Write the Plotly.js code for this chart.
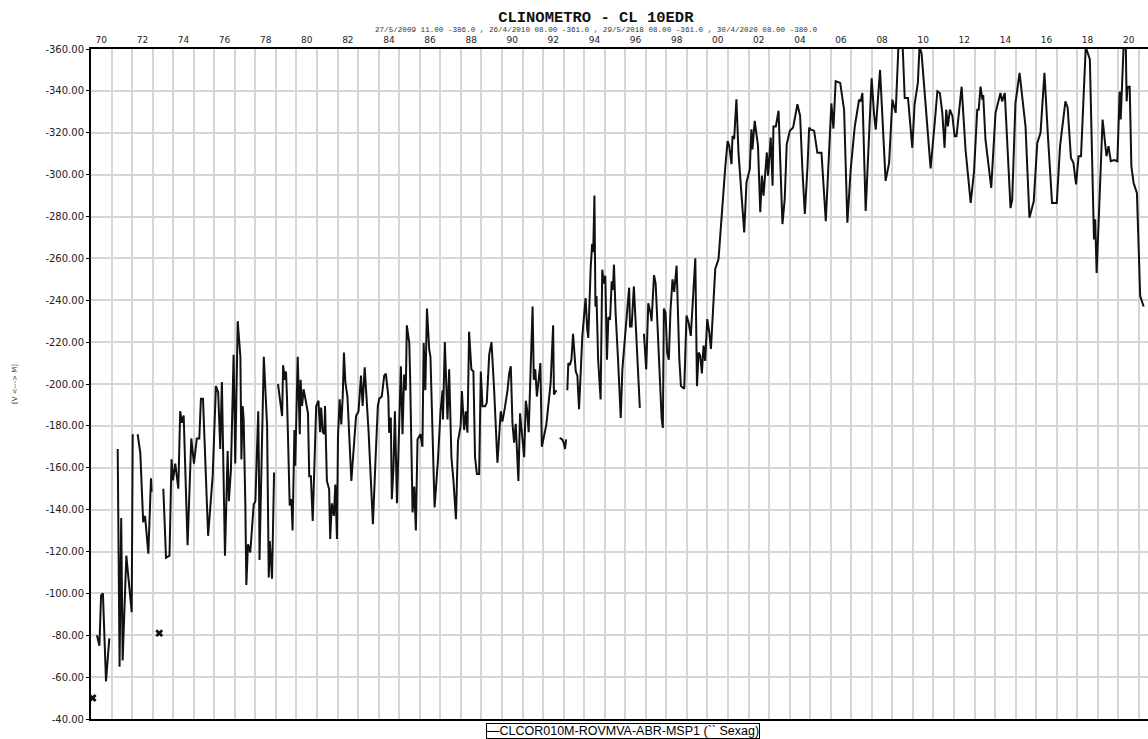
<!DOCTYPE html>
<html>
<head>
<meta charset="utf-8">
<script src="https://cdn.plot.ly/plotly-3.0.1.min.js"></script>
<style>html,body{margin:0;padding:0;background:#fff;}#chart{width:1148px;height:739px;}</style>
</head>
<body>
<div id="chart"></div>
<script>
// Decimal-year time stamps (null = gap in the record)
const years = [
  1970.29,1970.41,1970.49,1970.58,1970.73,1970.89,null,
  1971.30,1971.39,1971.47,1971.54,1971.72,1971.82,1971.98,1972.03,null,
  1972.27,1972.40,1972.54,1972.63,1972.79,1972.87,1972.92,1972.95,null,
  1973.52,1973.65,1973.82,1973.92,1973.99,1974.10,1974.25,1974.34,1974.42,1974.51,1974.70,1974.88,1975.01,1975.15,1975.27,1975.35,1975.45,1975.70,1975.92,
  1976.08,1976.19,1976.29,1976.37,1976.52,1976.65,1976.71,1976.81,1976.94,1977.02,1977.14,1977.27,1977.32,1977.38,1977.43,1977.51,1977.56,1977.64,1977.75,1977.92,
  1978.00,1978.08,1978.14,1978.18,1978.20,1978.28,1978.41,1978.57,1978.65,1978.70,1978.81,1978.91,null,
  1979.10,1979.22,1979.30,1979.35,1979.43,1979.49,1979.54,1979.67,1979.75,1979.81,1979.90,1979.94,1980.06,1980.16,1980.20,1980.27,1980.35,1980.45,1980.56,1980.62,1980.70,1980.79,1980.88,1980.96,
  1981.07,1981.15,1981.20,1981.28,1981.36,1981.39,1981.48,1981.59,1981.64,1981.72,1981.82,1981.89,1981.97,1982.02,1982.10,1982.18,1982.25,1982.31,1982.38,1982.48,1982.67,1982.90,
  1983.02,1983.14,1983.22,1983.32,1983.51,1983.72,1983.84,1983.96,1984.03,1984.15,1984.27,1984.35,1984.47,1984.51,1984.59,1984.64,1984.72,1984.79,1984.89,
  1985.00,1985.08,1985.16,1985.24,1985.32,1985.37,1985.49,1985.53,1985.65,1985.73,1985.81,1985.89,1986.03,1986.13,1986.19,1986.27,1986.35,1986.46,1986.52,1986.72,1986.88,
  1987.01,1987.11,1987.13,1987.22,1987.35,1987.43,1987.54,1987.64,1987.76,1987.86,1987.99,1988.05,1988.16,1988.24,1988.32,1988.40,1988.51,1988.61,1988.69,1988.78,1988.89,1988.97,
  1989.05,1989.18,1989.26,1989.38,1989.49,1989.62,1989.78,1989.94,1990.02,1990.14,1990.27,1990.35,1990.43,1990.51,1990.59,1990.67,1990.80,1990.88,1990.99,
  1991.08,1991.16,1991.22,1991.30,1991.49,1991.55,1991.62,1991.70,1991.87,1991.94,1992.16,1992.37,1992.49,1992.53,1992.65,null,
  1992.81,1992.93,1993.00,1993.07,1993.12,null,
  1993.18,1993.23,1993.30,1993.38,1993.46,1993.54,1993.59,1993.67,1993.75,1993.83,1993.91,1993.99,1994.07,1994.15,1994.20,1994.32,1994.39,1994.44,1994.50,1994.55,1994.60,1994.68,1994.80,1994.88,1994.96,
  1995.03,1995.11,1995.18,1995.26,1995.34,1995.40,1995.45,1995.53,1995.65,1995.78,1995.86,1995.94,1996.03,1996.11,1996.19,1996.23,1996.31,1996.42,1996.55,1996.71,null,
  1996.91,1997.02,1997.12,1997.23,1997.28,1997.40,1997.48,1997.56,1997.77,1997.83,1997.88,1997.96,1998.04,1998.12,1998.20,1998.30,1998.38,1998.50,1998.63,1998.71,1998.87,1998.98,
  1999.08,1999.19,1999.31,1999.41,1999.49,1999.57,1999.65,1999.73,1999.81,1999.89,1999.99,2000.09,2000.17,2000.28,2000.38,2000.54,2000.65,2000.73,2000.86,2000.98,
  2001.06,2001.17,2001.22,2001.30,2001.41,2001.51,2001.63,2001.79,2001.90,2002.06,2002.14,2002.19,2002.30,2002.46,2002.57,2002.65,2002.73,2002.89,2002.95,
  2003.08,2003.17,2003.21,2003.33,2003.46,2003.54,2003.65,2003.76,2003.86,2004.01,2004.17,2004.38,2004.51,2004.62,2004.74,2004.87,2004.95,
  2005.03,2005.19,2005.35,2005.55,2005.76,2006.03,2006.13,2006.24,2006.46,2006.65,2006.81,2006.97,2007.17,2007.38,2007.46,2007.54,2007.70,2007.88,2007.99,
  2008.11,2008.19,2008.40,2008.67,2008.84,2009.00,2009.16,2009.27,2009.40,2009.60,2009.76,2009.97,2010.08,2010.24,2010.32,2010.42,2010.62,2010.86,
  2011.06,2011.19,2011.31,2011.43,2011.54,2011.62,2011.70,2011.80,2011.92,2012.03,2012.12,2012.37,2012.56,2012.81,2012.97,
  2013.13,2013.20,2013.29,2013.38,2013.42,2013.53,2013.81,2014.02,2014.26,2014.34,2014.47,2014.75,2014.83,2014.99,
  2015.19,2015.48,2015.67,2015.88,2016.05,2016.21,2016.40,2016.58,2016.77,2017.00,2017.16,2017.42,2017.53,2017.69,2017.81,2017.94,
  2018.06,2018.18,2018.41,2018.61,2018.74,2018.81,2018.87,2018.94,2019.06,2019.23,2019.42,2019.52,2019.63,2019.79,2019.95,
  2020.06,2020.11,2020.33,2020.40,2020.45,2020.55,2020.63,2020.74,2020.90,2021.06,2021.23
];
// Readings in sexagesimal seconds (V <---> M), same order as years
const clinoValues = [
  -80,-75,-99,-100,-58,-78.5,null,
  -169,-65,-136,-68,-118,-107,-91,-176,null,
  -176,-167,-134,-137,-119,-148,-155,-148.5,null,
  -150,-117,-118,-164,-154,-162,-150,-187,-181.5,-185,-123,-174,-162,-174,-174,-193,-193,-127.5,-156,
  -199,-196,-169,-201,-118,-168,-144,-159,-214,-162,-230,-213,-164,-189.5,-183,-143,-104,-123.5,-119.5,-142.6,
  -144,-169,-187,-151,-116,-153,-213,-180,-107.6,-125,-107,-157.7,null,
  -200,-189.5,-184.7,-209,-202,-206,-193,-142,-145,-130,-178,-161,-213,-176,-202,-189.5,-197.4,-192,-186,-156,-156,-134.6,-164,-189.5,
  -192,-177,-188.7,-177,-176,-189.5,-153.7,-149.7,-126,-143,-137,-152,-126,-175,-192.7,-180.7,-194,-215,-200.6,-194,-153.7,-184.7,
  -187,-204,-189.5,-208,-177,-133,-162.4,-189.5,-193,-194,-204,-205,-194,-176.7,-184,-145,-160,-187,-143,
  -175,-208.5,-176,-204.5,-197,-228,-219.6,-203.7,-138.6,-151,-130,-173.5,-176,-170,-219.6,-197,-236,-216.5,-213,-141,-163,
  -187,-197,-183,-220,-183,-207,-165,-153.7,-135.4,-172.7,-180,-196.6,-178,-187,-176.7,-225,-207,-206,-165,-157,-157,-206,
  -189.4,-189.4,-191,-214,-220,-197,-162.4,-187,-182,-188.6,-197,-205,-208.5,-181.5,-172,-181,-153.7,-186,-172,
  -165,-192,-188,-177,-237,-202,-207,-194,-210,-170,-180.6,-200.5,-228,-195,-197,null,
  -174.3,-173.5,-172,-169,-173.5,null,
  -197,-210,-209,-211.6,-224,-215,-206,-204,-188,-205,-222.8,-232,-241,-226,-222,-256,-267,-263,-290,-237,-242,-211.6,-192.6,-254.6,-248,
  -251.7,-211.6,-232,-230.7,-249,-245,-257,-234,-211.6,-183.8,-207,-215,-227.5,-237,-246,-227.5,-227.5,-246.6,-218,-188.6,null,
  -224,-207,-238.6,-234,-230,-252,-248,-229,-183.8,-179,-236,-234,-215,-211.6,-235,-250,-244,-256.5,-212,-199,-197.7,-232.7,
  -229.5,-223,-244,-260,-199,-215,-213.6,-205,-218.4,-211,-231,-224.7,-216.8,-240.6,-255,-259.7,-275.6,-286.7,-302.6,-316,
  -313.8,-305,-318.5,-317,-336,-310.6,-293,-272.4,-296.3,-302.6,-321.7,-312,-325.7,-313.8,-282,-299.5,-290,-310.6,-299.5,
  -317.7,-294.7,-323,-323,-330.5,-307.4,-276.4,-288.3,-314.6,-321,-322.5,-333.6,-328,-302.6,-281.2,-304,-322.5,
  -321.5,-321,-310.4,-310.4,-277.8,-334,-322,-344.6,-343.8,-331,-277,-302.4,-323,-335.8,-335,-339,-282.6,-326.3,-346,
  -328.7,-321.5,-350,-297,-305.6,-335.8,-329.5,-353,-386,-336.6,-336.6,-312.8,-333.5,-343.8,-361,-358,-331,-303,
  -324.7,-339.8,-339,-329.5,-312.8,-331,-323,-331,-328,-318.3,-318.3,-342,-312,-286.5,-301,
  -331,-331,-342,-335.8,-338,-316.8,-293.7,-329.5,-339,-335,-339,-284,-288,-334.2,
  -348.6,-323,-279.4,-287.3,-315,-320,-348.6,-316.8,-286.5,-286.5,-313.6,-335,-332,-308,-305.6,-295.3,
  -308.8,-308.8,-361,-355,-290.5,-269,-278.7,-253,-283,-326.3,-308.8,-313.6,-306.4,-307,-306.4,
  -339.7,-326.3,-380,-335,-342,-342,-304,-296,-291.3,-242,-237
];
// Isolated readings (no neighbours, drawn as crosses)
const isolatedYears = [1970.08, 1973.32];
const isolatedValues = [-50, -81];

const xTickLabels = ['70','72','74','76','78','80','82','84','86','88','90','92','94','96','98','00','02','04','06','08','10','12','14','16','18','20'];
const yTickValues = [-360,-340,-320,-300,-280,-260,-240,-220,-200,-180,-160,-140,-120,-100,-80,-60,-40];

const seriesName = 'CLCOR010M-ROVMVA-ABR-MSP1 (`` Sexag)';
const titleText = 'CLINOMETRO - CL 10EDR';
const subtitleText = '27/5/2009 11.00 -386.0 , 26/4/2010 08.00 -361.0 , 29/5/2018 08.00 -361.0 , 30/4/2020 08.00 -380.0';

const xTickVals = xTickLabels.map((_, i) => 1970.5 + 2 * i);
const yTickText = yTickValues.map(v => (v < 0 ? '-' : '') + Math.abs(v).toFixed(2));

const traces = [
  {
    type: 'scatter', mode: 'lines', name: seriesName,
    x: years, y: clinoValues, connectgaps: false,
    line: {color: '#111111', width: 2},
    showlegend: false, hoverinfo: 'x+y'
  },
  {
    type: 'scatter', mode: 'markers', name: seriesName, showlegend: false,
    x: isolatedYears, y: isolatedValues,
    marker: {symbol: 'x', size: 7, color: '#111111'}
  }
];

const layout = {
  width: 1148, height: 739,
  margin: {l: 91, r: 0, t: 49, b: 20, pad: 0, autoexpand: false},
  paper_bgcolor: '#ffffff', plot_bgcolor: '#ffffff',
  showlegend: false,
  title: {
    text: titleText,
    font: {family: 'Liberation Mono, Courier New, monospace', size: 15.5, color: '#111', weight: 'bold'},
    x: 0.519, xref: 'container', xanchor: 'center',
    y: 0.978, yref: 'container', yanchor: 'middle'
  },
  annotations: [
    {
      text: subtitleText, xref: 'paper', yref: 'paper', x: 0.4778, y: 1.0284,
      xanchor: 'center', yanchor: 'middle', showarrow: false,
      font: {family: 'Liberation Mono, Courier New, monospace', size: 7.6, color: '#333'}
    },
    {
      // legend box of the single series
      text: '\u2014' + seriesName, xref: 'paper', yref: 'paper', x: 0.503, y: -0.006,
      xanchor: 'center', yanchor: 'top', showarrow: false,
      bordercolor: '#000', borderwidth: 1, borderpad: 0, bgcolor: '#fff',
      font: {family: 'Liberation Sans, Arial, sans-serif', size: 12.5, color: '#000'}
    }
  ],
  xaxis: {
    side: 'top', range: [1970, 2021.44], autorange: false,
    tickmode: 'array', tickvals: xTickVals, ticktext: xTickLabels,
    ticks: '', showgrid: false, zeroline: false,
    tickfont: {family: 'DejaVu Sans, Verdana, sans-serif', size: 9, color: '#222'},
    showline: true, linecolor: '#000', linewidth: 2, mirror: true,
    minor: {tick0: 1970, dtick: 1, showgrid: true, gridcolor: '#d6d6d6', gridwidth: 2, ticks: ''}
  },
  yaxis: {
    range: [-40, -360], autorange: false,
    tickmode: 'array', tickvals: yTickValues, ticktext: yTickText,
    ticks: 'outside', ticklen: 3, tickcolor: '#000', tickwidth: 1,
    showgrid: true, gridcolor: '#d6d6d6', gridwidth: 2, zeroline: false,
    tickfont: {family: 'DejaVu Sans, Verdana, sans-serif', size: 10, color: '#222'},
    showline: true, linecolor: '#000', linewidth: 2,
    title: {text: '[V &lt;---&gt; M]', standoff: 27,
      font: {family: 'DejaVu Sans, Verdana, sans-serif', size: 7, color: '#333'}}
  }
};

Plotly.newPlot('chart', traces, layout, {displayModeBar: false, staticPlot: true});
</script>
</body>
</html>
